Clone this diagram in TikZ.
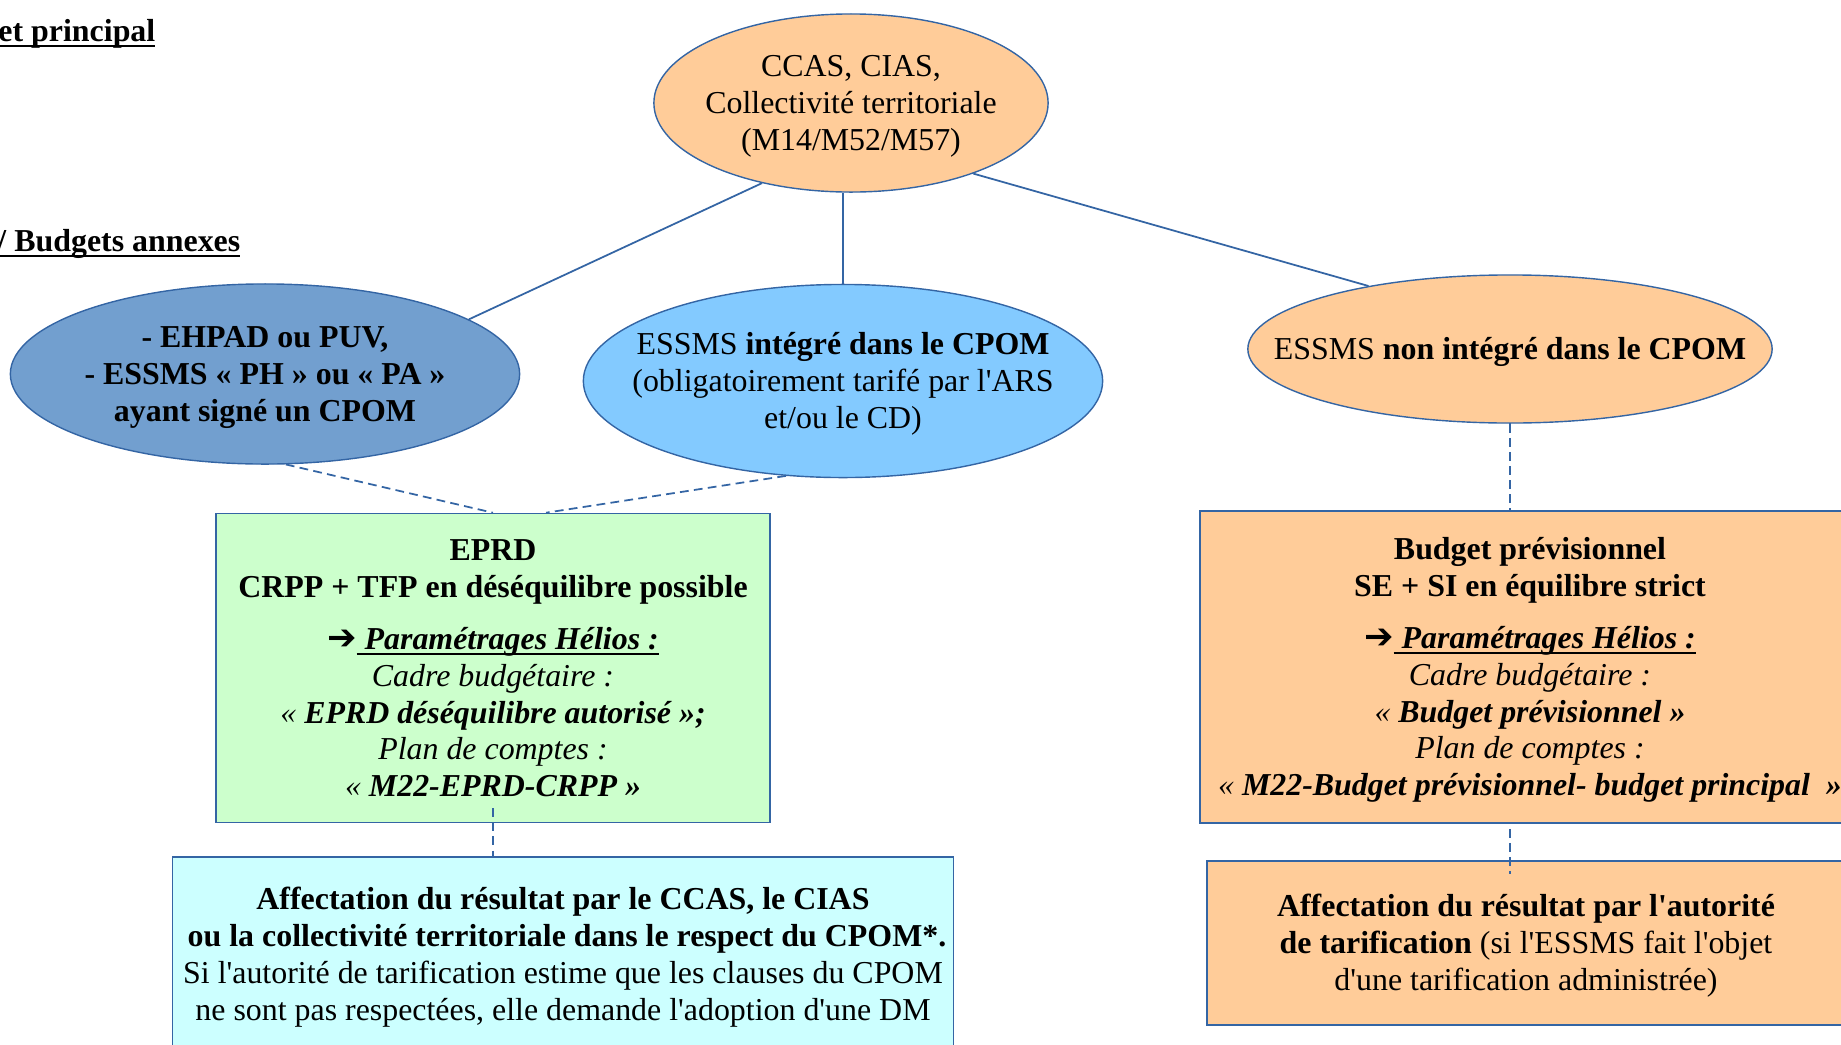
\documentclass[tikz,border=0pt]{standalone}
\usepackage{fontspec}
\setmainfont{Liberation Serif}[Ligatures=TeXOff]
\newfontfamily\arrowfont{DejaVu Sans}
\usetikzlibrary{shapes.geometric,calc}
\definecolor{peach}{RGB}{255,204,153}
\definecolor{steel}{RGB}{114,159,207}
\definecolor{sky}{RGB}{131,202,255}
\definecolor{mint}{RGB}{204,255,204}
\definecolor{ice}{RGB}{204,255,255}
\definecolor{lineblue}{RGB}{52,101,164}
\newcommand{\diagfont}{\fontsize{9.07pt}{10.49pt}\selectfont}
\newcommand{\lostrut}{\rule[-1.96pt]{0pt}{10.04pt}}
\newcommand{\ulin}[1]{\underline{\smash{#1}}}
\newcommand{\helios}{{\arrowfont\bfseries\fontsize{10pt}{10pt}\selectfont ➔}\ulin{\textbf{\textit{\ Paramétrages Hélios :}}}}
\tikzset{
%Define styles for the ellipses and boxes
budget ellipse/.style={ellipse, draw=lineblue, line width=0.4pt, inner sep=-3cm, align=center,
  execute at end node=\lostrut},
budget box/.style={rectangle, draw=lineblue, line width=0.4pt, inner sep=0pt, align=center,
  execute at end node=\lostrut},
section title/.style={inner sep=0pt, font=\diagfont\bfseries},
%Define style for the connections
solid link/.style={draw=lineblue, line width=0.5pt},
dashed link/.style={draw=lineblue, line width=0.5pt, dash pattern=on 2.5pt off 1.5pt},
}

\begin{document}
\begin{tikzpicture}[x=0.01cm, y=-0.01cm, font=\diagfont]
\useasboundingbox (0,0) rectangle (1841,1045);
\clip (0,0) rectangle (1841,1045);

\node[section title, anchor=base east] (princ) at (156,41) {\ulin{et principal}};
\node[section title, anchor=base east] (annex) at (241,251) {\ulin{/ Budgets annexes}};

% the ellipses
\node[budget ellipse, fill=peach, minimum width=3.94cm, minimum height=1.78cm] (ccas)
  at (851,103) {\lostrut CCAS, CIAS,\\Collectivité territoriale\\(M14/M52/M57)};
\node[budget ellipse, fill=steel, minimum width=5.09cm, minimum height=1.80cm] (signed)
  at (265,374) {\lostrut\bfseries - EHPAD ou PUV,\\\bfseries - ESSMS « PH » ou « PA »\\\bfseries ayant signé un CPOM};
\node[budget ellipse, fill=sky, minimum width=5.19cm, minimum height=1.93cm] (integr)
  at (843,381) {\lostrut ESSMS \textbf{intégré dans le CPOM}\\(obligatoirement tarifé par l'ARS\\et/ou le CD)};
\node[budget ellipse, fill=peach, minimum width=5.24cm, minimum height=1.48cm] (nonint)
  at (1510,349) {\lostrut ESSMS \textbf{non intégré dans le CPOM}};

% the boxes
\node[budget box, fill=mint, minimum width=5.54cm, minimum height=3.09cm] (eprd)
  at (493,668) {\lostrut\textbf{EPRD}\\\textbf{CRPP + TFP en déséquilibre possible}\\[4.2pt]\helios\\
  \textit{Cadre budgétaire :}\\\textit{« \textbf{EPRD déséquilibre autorisé »;}}\\
  \textit{Plan de comptes :}\\\textit{« \textbf{M22-EPRD-CRPP »}}};
\node[budget box, fill=peach, minimum width=6.60cm, minimum height=3.12cm] (bp)
  at (1530,667) {\lostrut\textbf{Budget prévisionnel}\\\textbf{SE + SI en équilibre strict}\\[4.2pt]\helios\\
  \textit{Cadre budgétaire :}\\\textit{« \textbf{Budget prévisionnel »}}\\
  \textit{Plan de comptes :}\\\textit{« \textbf{M22-Budget prévisionnel- budget principal\ \ »}}};
\node[budget box, fill=ice, minimum width=7.80cm, minimum height=1.94cm] (affcol)
  at (563,954) {\lostrut\textbf{Affectation du résultat par le CCAS, le CIAS}\\
  \textbf{\ ou la collectivité territoriale dans le respect du CPOM*.}\\
  Si l'autorité de tarification estime que les clauses du CPOM\\
  ne sont pas respectées, elle demande l'adoption d'une DM};
\node[budget box, fill=peach, minimum width=6.38cm, minimum height=1.64cm] (afftar)
  at (1526,943) {\lostrut\textbf{Affectation du résultat par l'autorité}\\
  \textbf{de tarification} (si l'ESSMS fait l'objet\\d'une tarification administrée)};

% connections
\draw[solid link] (ccas.222) -- (signed.15);
\draw[solid link] (integr.north |- ccas.south) -- (integr.north);
\draw[solid link] (ccas.330) -- (nonint.156);
\draw[dashed link] (signed.283) -- (eprd.north);
\draw[dashed link] (integr.239) -- ([xshift=0.53cm]eprd.north);
\draw[dashed link] (nonint.south) -- (nonint.south |- bp.north);
\draw[dashed link] ($(eprd.south)+(0,-15)$) -- (eprd.south |- affcol.north);
\draw[dashed link] ($(nonint.south |- bp.south)+(0,5)$) -- ($(nonint.south |- afftar.north)+(0,14)$);
\end{tikzpicture}
\end{document}
